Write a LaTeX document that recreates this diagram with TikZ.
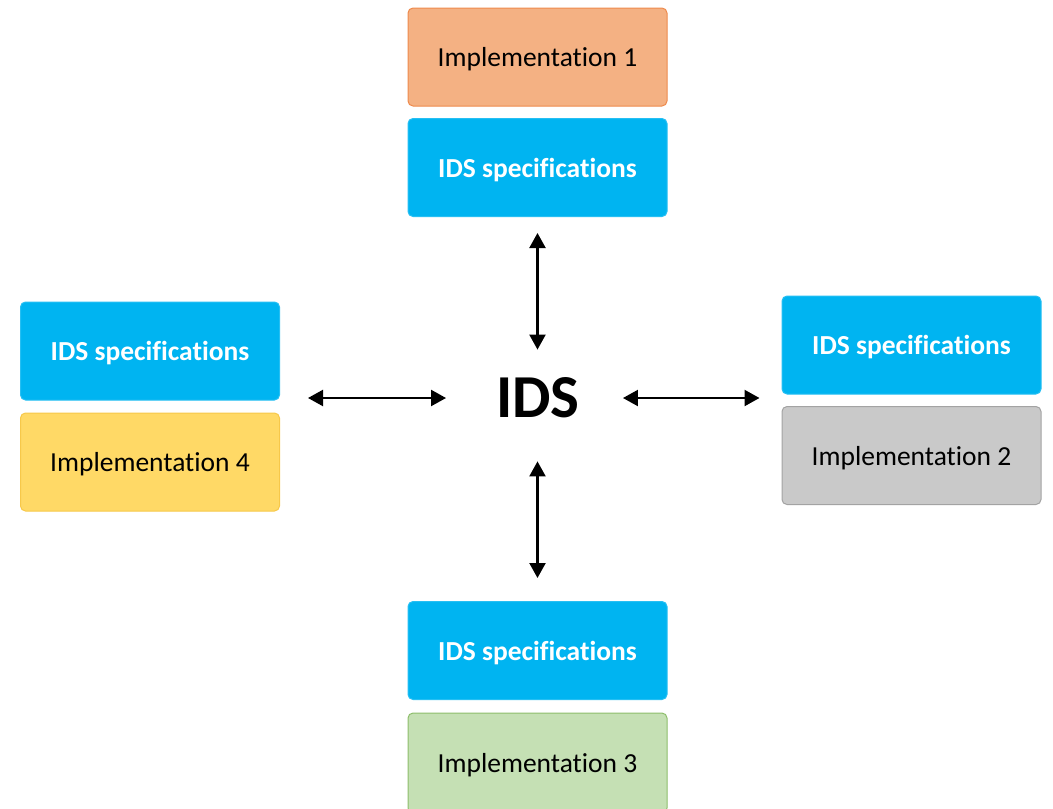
\documentclass[tikz,border=0pt]{standalone}
\usepackage{fontspec}
\setmainfont[Ligatures={NoCommon,NoContextual}]{Carlito}
\usetikzlibrary{arrows.meta}
\definecolor{specblue}{HTML}{00B4F1}
\definecolor{orfill}{HTML}{F4B183}
\definecolor{ordraw}{HTML}{EE8A4C}
\definecolor{yefill}{HTML}{FFD966}
\definecolor{yedraw}{HTML}{F7C84A}
\definecolor{grfill}{HTML}{C9C9C9}
\definecolor{grdraw}{HTML}{A3A3A3}
\definecolor{gnfill}{HTML}{C5E0B4}
\definecolor{gndraw}{HTML}{8DBE6B}
\tikzset{
  box/.style={rectangle, rounded corners=5pt, minimum width=259pt, minimum height=98pt, inner sep=0pt, text depth=0pt, line width=1pt, font=\fontsize{27.5}{33}\selectfont},
  specbox/.style={box, fill=specblue, draw=specblue!85!white, text=white, font=\fontsize{27.5}{33}\selectfont\bfseries},
  implbox/.style={box, text=black},
  link/.style={line width=2.2pt, {Triangle[length=15pt,width=16pt]}-{Triangle[length=15pt,width=16pt]}}
}
\begin{document}
\begin{tikzpicture}[x=1pt,y=-1pt]
\useasboundingbox (0,0) rectangle (1053,809);
\node[implbox, fill=orfill, draw=ordraw] (impl1) at (537.5,57) {Implementation 1};
\node[specbox] (tops) at (537.5,167.5) {IDS specifications};
\node[specbox] (lefts) at (150,351) {IDS specifications};
\node[implbox, fill=yefill, draw=yedraw] (impl4) at (150,462) {Implementation 4};
\node[specbox] (rights) at (911.5,345) {IDS specifications};
\node[implbox, fill=grfill, draw=grdraw] (impl2) at (911.5,455.5) {Implementation 2};
\node[specbox] (bots) at (537.5,650.5) {IDS specifications};
\node[implbox, fill=gnfill, draw=gndraw, minimum height=100pt] (impl3) at (537.5,763) {Implementation 3};
\node[inner sep=0pt, font=\fontsize{61}{70}\selectfont\bfseries] (ids) at (538,398) {IDS};
\draw[link, shorten <=16pt, shorten >=28pt] (tops.south) -- (tops.south |- ids.north);
\draw[link, shorten <=23pt, shorten >=43pt] (bots.north) -- (bots.north |- ids.south);
\draw[link, shorten <=28pt, shorten >=50pt] (lefts.east |- ids.west) -- (ids.west);
\draw[link, shorten <=22pt, shorten >=43pt] (rights.west |- ids.east) -- (ids.east);
\end{tikzpicture}
\end{document}
